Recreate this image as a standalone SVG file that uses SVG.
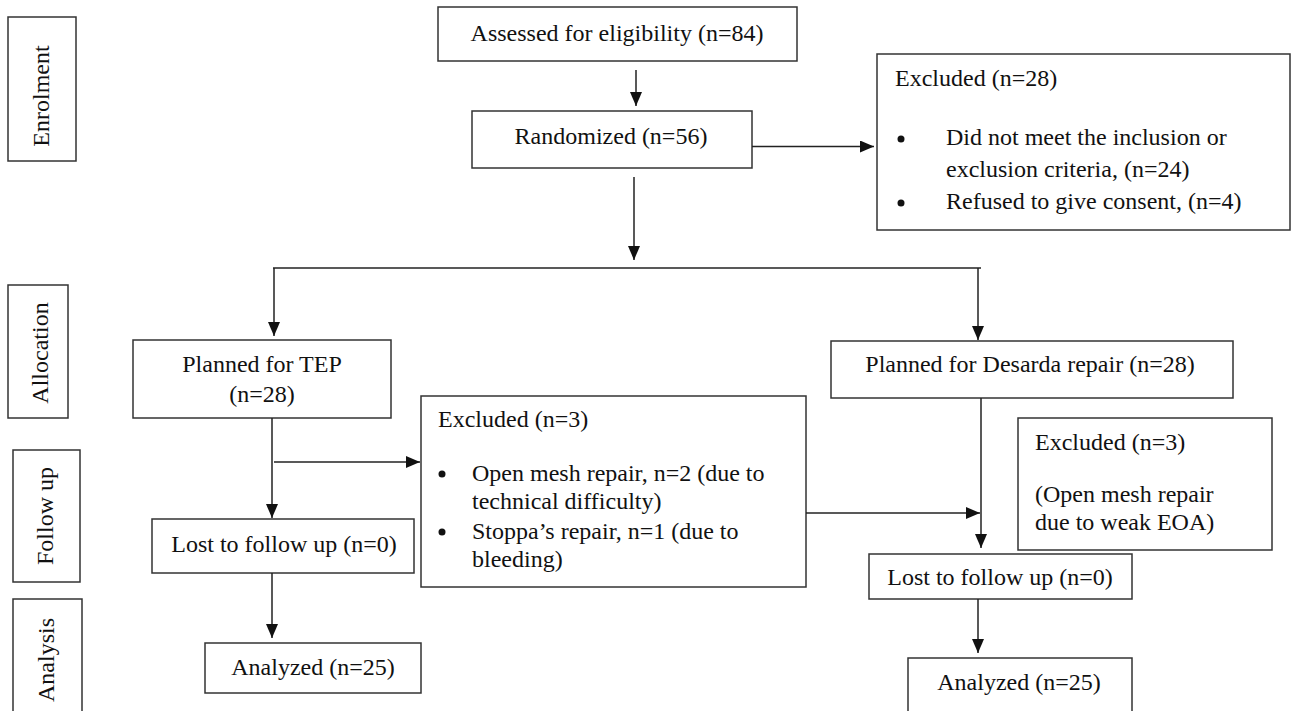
<svg xmlns="http://www.w3.org/2000/svg" width="1292" height="711" viewBox="0 0 1292 711">
<style>
.box{fill:#fff;stroke:#333;stroke-width:1.5}
.t{font-family:"Liberation Serif","Times New Roman",serif;font-size:24px;fill:#111}
.c{text-anchor:middle}
.ln{stroke:#222;stroke-width:1.5;fill:none}
.dot{fill:#111}
</style>
<defs>
<marker id="ah" markerUnits="userSpaceOnUse" markerWidth="14" markerHeight="12" refX="14" refY="6" orient="auto">
<path d="M0,0 L14,6 L0,12 Z" fill="#111"/>
</marker>
</defs>
<rect width="1292" height="711" fill="#fff"/>

<g id="side-enrolment"><rect class="box" x="8" y="17" width="68" height="144"/><text class="t c" transform="translate(49,96) rotate(-90)">Enrolment</text></g>
<g id="side-allocation"><rect class="box" x="8" y="285" width="60" height="133"/><text class="t c" transform="translate(48,353) rotate(-90)">Allocation</text></g>
<g id="side-followup"><rect class="box" x="13" y="450" width="67" height="132"/><text class="t c" transform="translate(53,516) rotate(-90)">Follow up</text></g>
<g id="side-analysis"><rect class="box" x="13" y="599" width="69" height="130"/><text class="t c" transform="translate(54,660) rotate(-90)">Analysis</text></g>

<g id="assessed"><rect class="box" x="438" y="7" width="359" height="54"/><text class="t c" x="617" y="41">Assessed for eligibility (n=84)</text></g>
<g id="randomized"><rect class="box" x="472" y="111" width="280" height="57"/><text class="t c" x="611" y="144">Randomized (n=56)</text></g>
<g id="excluded28"><rect class="box" x="877" y="54" width="413" height="176"/>
<text class="t" x="895" y="86">Excluded (n=28)</text>
<circle class="dot" cx="901" cy="139" r="3.5"/>
<text class="t" x="946" y="145">Did not meet the inclusion or</text>
<text class="t" x="946" y="177">exclusion criteria, (n=24)</text>
<circle class="dot" cx="901" cy="203" r="3.5"/>
<text class="t" x="946" y="209">Refused to give consent, (n=4)</text>
</g>

<g id="tep"><rect class="box" x="133" y="340" width="258" height="78"/><text class="t c" x="262" y="372">Planned for TEP</text><text class="t c" x="262" y="402">(n=28)</text></g>
<g id="desarda"><rect class="box" x="831" y="341" width="402" height="57"/><text class="t c" x="1030" y="372">Planned for Desarda repair (n=28)</text></g>

<g id="excluded3-tep"><rect class="box" x="421" y="396" width="385" height="191"/>
<text class="t" x="438" y="427">Excluded (n=3)</text>
<circle class="dot" cx="442" cy="474" r="3.5"/>
<text class="t" x="472" y="481">Open mesh repair, n=2 (due to</text>
<text class="t" x="472" y="509">technical difficulty)</text>
<circle class="dot" cx="442" cy="532" r="3.5"/>
<text class="t" x="472" y="539">Stoppa’s repair, n=1 (due to</text>
<text class="t" x="472" y="567">bleeding)</text>
</g>

<g id="excluded3-desarda"><rect class="box" x="1018" y="418" width="254" height="132"/>
<text class="t" x="1035" y="450">Excluded (n=3)</text>
<text class="t" x="1035" y="502">(Open mesh repair</text>
<text class="t" x="1035" y="530">due to weak EOA)</text>
</g>

<g id="lost-tep"><rect class="box" x="152" y="519" width="262" height="54"/><text class="t c" x="284" y="552">Lost to follow up (n=0)</text></g>
<g id="lost-desarda"><rect class="box" x="869" y="554" width="263" height="45"/><text class="t c" x="1000" y="585">Lost to follow up (n=0)</text></g>
<g id="analyzed-tep"><rect class="box" x="205" y="643" width="216" height="50"/><text class="t c" x="313" y="675">Analyzed (n=25)</text></g>
<g id="analyzed-desarda"><rect class="box" x="908" y="658" width="224" height="70"/><text class="t c" x="1019" y="690">Analyzed (n=25)</text></g>

<g id="connectors">
<line class="ln" x1="636" y1="70" x2="636" y2="106" marker-end="url(#ah)"/>
<line class="ln" x1="752" y1="146.5" x2="874" y2="146.5" marker-end="url(#ah)"/>
<line class="ln" x1="634" y1="177" x2="634" y2="260" marker-end="url(#ah)"/>
<line class="ln" x1="273" y1="268" x2="981" y2="268"/>
<line class="ln" x1="274" y1="268" x2="274" y2="336" marker-end="url(#ah)"/>
<line class="ln" x1="978" y1="268" x2="978" y2="340" marker-end="url(#ah)"/>
<line class="ln" x1="272" y1="418" x2="272" y2="518" marker-end="url(#ah)"/>
<line class="ln" x1="274" y1="462" x2="420" y2="462" marker-end="url(#ah)"/>
<line class="ln" x1="272" y1="573" x2="272" y2="638" marker-end="url(#ah)"/>
<line class="ln" x1="806" y1="513" x2="980" y2="513" marker-end="url(#ah)"/>
<line class="ln" x1="981" y1="398" x2="981" y2="548" marker-end="url(#ah)"/>
<line class="ln" x1="978" y1="599" x2="978" y2="653" marker-end="url(#ah)"/>
</g>
</svg>
